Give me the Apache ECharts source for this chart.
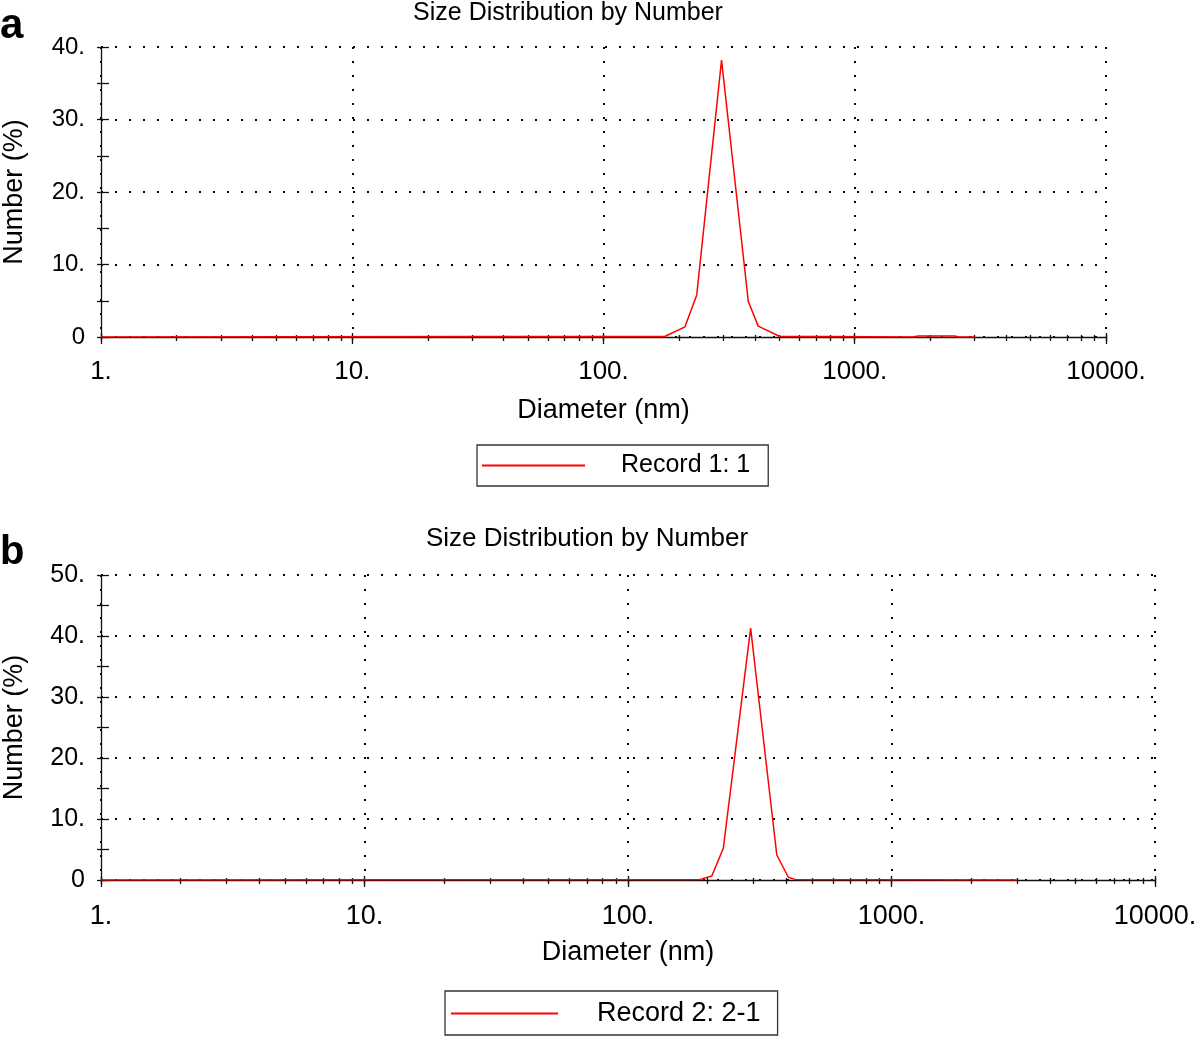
<!DOCTYPE html>
<html><head><meta charset="utf-8">
<script src="https://cdn.jsdelivr.net/npm/echarts@6/dist/echarts.min.js"></script>
<style>html,body{margin:0;padding:0;background:#fff}#c{width:1200px;height:1039px}</style>
</head><body><div id="c"></div>
<script>
// ---- data ----
const diameterA = [1, 176, 211, 235, 295, 377, 413, 501, 1700, 1790, 2500, 2600, 3000];
const numberA   = [0, 0.1, 1.4, 5.8, 38.2, 4.9, 1.5, 0.1, 0, 0.15, 0.15, 0, 0];
const diameterB = [1, 188, 208, 230, 292, 367, 406, 430, 3000];
const numberB   = [0, 0.1, 0.65, 5.2, 41.3, 4.1, 0.45, 0.1, 0];
const decades = [1, 10, 100, 1000, 10000];
const xTickLabels = ['1.', '10.', '100.', '1000.', '10000.'];
const yMaxA = 40, yMaxB = 50;
const legendA = 'Record 1: 1';
const legendB = 'Record 2: 2-1';
const chartTitle = 'Size Distribution by Number';
const xName = 'Diameter (nm)';
const yName = 'Number (%)';

const FONT = '"Liberation Sans", Arial, sans-serif';
const INK = '#111';
const allTicks = [];
decades.forEach((d, i) => {
  if (i < decades.length - 1) { for (let k = 1; k <= 9; k++) allTicks.push(d * k); }
  else allTicks.push(d);
});
const dotted = { type: [2, 12], color: '#000', width: 2 };

function xAxes(gridIndex, fs, margin, nameFs, nameGap) {
  const base = { type: 'log', logBase: 10, min: 1, max: 10000, gridIndex, position: 'bottom' };
  const tk = { color: INK, width: 1.3 };
  return [
    Object.assign({}, base, {
      axisLine: { show: true, lineStyle: { color: INK, width: 1.3 } },
      axisTick: { show: true, inside: false, length: 4, customValues: allTicks, lineStyle: tk },
      axisLabel: { show: true, customValues: decades, margin: margin, fontSize: fs, fontFamily: FONT, color: '#000',
        formatter: v => xTickLabels[decades.indexOf(Math.round(v))] || '' },
      splitLine: { show: false },
      name: xName, nameLocation: 'middle', nameGap: nameGap,
      nameTextStyle: { fontSize: nameFs, fontFamily: FONT, color: '#000' }
    }),
    Object.assign({}, base, { axisLine: { show: false }, axisLabel: { show: false },
      splitLine: { show: true, lineStyle: dotted },
      axisTick: { show: true, inside: false, length: 7, customValues: decades, lineStyle: tk } }),
    Object.assign({}, base, { axisLine: { show: false }, axisLabel: { show: false }, splitLine: { show: false },
      axisTick: { show: true, inside: true, length: 2, customValues: allTicks, lineStyle: tk } }),
    Object.assign({}, base, { axisLine: { show: false }, axisLabel: { show: false }, splitLine: { show: false },
      axisTick: { show: true, inside: true, length: 4, customValues: decades, lineStyle: tk } })
  ];
}
function yAxes(gridIndex, max, fs, nameFs, nameGap) {
  const base = { type: 'value', min: 0, max: max, interval: 10, gridIndex, position: 'left' };
  const tk = { color: INK, width: 1.3 };
  return [
    Object.assign({}, base, {
      axisLine: { show: true, lineStyle: { color: INK, width: 1.3 } },
      axisTick: { show: true, inside: false, length: 4, lineStyle: tk },
      minorTick: { show: true, splitNumber: 2, length: 4, lineStyle: tk },
      axisLabel: { show: true, margin: 16, fontSize: fs, fontFamily: FONT, color: '#000',
        formatter: v => v === 0 ? '0' : v + '.' },
      splitLine: { show: true, lineStyle: dotted },
      name: yName, nameLocation: 'middle', nameGap: nameGap, nameRotate: 90,
      nameTextStyle: { fontSize: nameFs, fontFamily: FONT, color: '#000' }
    }),
    Object.assign({}, base, {
      axisLine: { show: false }, axisLabel: { show: false }, splitLine: { show: false },
      axisTick: { show: true, inside: true, length: 8, lineStyle: tk },
      minorTick: { show: true, splitNumber: 2, length: 8, lineStyle: tk }
    })
  ];
}
function legendOpt(name, left, top, iconW, padL, fs, pad) {
  return {
    data: [name], left: left, top: top, orient: 'horizontal',
    icon: 'rect', itemWidth: iconW, itemHeight: 2, padding: pad,
    borderColor: '#333', borderWidth: 1.3, backgroundColor: '#fff',
    textStyle: { fontSize: fs, fontFamily: FONT, color: '#000', padding: [0, 0, 0, padL] }
  };
}

const chart = echarts.init(document.getElementById('c'), null, { renderer: 'canvas' });
chart.setOption({
  animation: false,
  backgroundColor: '#fff',
  grid: [
    { left: 101, right: 94, top: 47, height: 290, outerBoundsMode: 'none' },
    { left: 101, right: 45, top: 575, height: 305, outerBoundsMode: 'none' }
  ],
  xAxis: xAxes(0, 26, 22, 27, 60).concat(xAxes(1, 27, 23, 27, 59)),
  yAxis: yAxes(0, yMaxA, 24, 27, 73).concat(yAxes(1, yMaxB, 25, 27, 73)),
  legend: [
    legendOpt(legendA, 477, 445, 103, 31, 25, [8, 18, 8, 5]),
    legendOpt(legendB, 445, 991, 107, 34, 27, [9, 17, 8, 6])
  ],
  graphic: [
    { type: 'text', x: 568, y: 13, style: { text: chartTitle, fontSize: 25, fontFamily: FONT, fill: '#000', align: 'center', verticalAlign: 'middle' } },
    { type: 'text', x: 587, y: 539, style: { text: chartTitle, fontSize: 26, fontFamily: FONT, fill: '#000', align: 'center', verticalAlign: 'middle' } },
    { type: 'text', x: 0, y: 26, style: { text: 'a', fontSize: 42, fontWeight: 'bold', fontFamily: FONT, fill: '#000', align: 'left', verticalAlign: 'middle' } },
    { type: 'text', x: 0, y: 553, style: { text: 'b', fontSize: 40, fontWeight: 'bold', fontFamily: FONT, fill: '#000', align: 'left', verticalAlign: 'middle' } }
  ],
  series: [
    { name: legendA, type: 'line', xAxisIndex: 0, yAxisIndex: 0, symbol: 'none', z: 5,
      lineStyle: { color: '#f00', width: 1.5 }, itemStyle: { color: '#f00' },
      data: diameterA.map((d, i) => [d, numberA[i]]) },
    { name: legendB, type: 'line', xAxisIndex: 4, yAxisIndex: 2, symbol: 'none', z: 5,
      lineStyle: { color: '#f00', width: 1.5 }, itemStyle: { color: '#f00' },
      data: diameterB.map((d, i) => [d, numberB[i]]) }
  ]
});
</script></body></html>
